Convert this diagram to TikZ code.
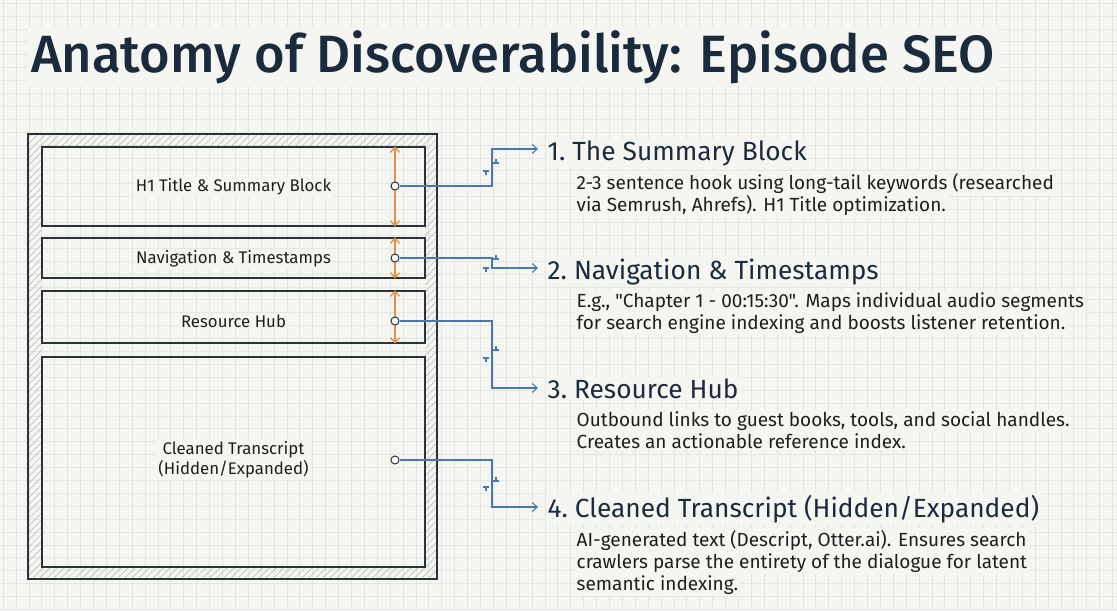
\documentclass[tikz,border=0pt]{standalone}
\usepackage{fontspec}
\setmainfont{Fira Sans}
\newfontfamily\titlefont{Fira Sans Medium}
\newfontfamily\plainfont{Fira Sans}
\usetikzlibrary{arrows.meta,patterns.meta}
\definecolor{bg}{HTML}{F5F5F1}
\definecolor{gridc}{HTML}{E5E6E2}
\definecolor{ink}{HTML}{1B2B3E}
\definecolor{boxc}{HTML}{2A323C}
\definecolor{hatchc}{HTML}{B5B5B2}
\definecolor{orng}{HTML}{E3923F}
\definecolor{blu}{HTML}{4A79A8}
\definecolor{txt}{HTML}{1E1E1E}
\begin{document}
\begin{tikzpicture}[x=1pt,y=-1pt,
  sect/.style={draw=boxc,line width=1.2pt,rectangle,inner sep=0pt},
  lbl/.style={fill=bg,inner sep=2pt,font=\plainfont\fontsize{16.8}{20}\selectfont,text=txt,align=center},
  head/.style={anchor=base west,fill=bg,inner sep=1.5pt,font=\plainfont\fontsize{26.3}{30}\selectfont,text=ink},
  body/.style={anchor=base west,fill=bg,inner sep=1.5pt,font=\plainfont\fontsize{19}{22}\selectfont,text=txt},
  port/.style={circle,draw=boxc,fill=white,line width=1pt,inner sep=0pt,minimum size=8pt},
  conn/.style={draw=blu,line width=1.1pt,-{Straight Barb[length=5pt,width=9pt]}},
  dim/.style={draw=orng,line width=1.3pt,{Straight Barb[length=5pt,width=9pt]}-{Straight Barb[length=5pt,width=9pt]}},
  hopmark/.style={draw=blu,line width=1.1pt}
]
\useasboundingbox (0,0) rectangle (1117,611);
\fill[bg] (0,0) rectangle (1117,611);
\foreach \g in {3,15.9,...,1117} \draw[gridc,line width=0.6pt] (\g,0) -- (\g,611);
\foreach \g in {3,15.9,...,611} \draw[gridc,line width=0.6pt] (0,\g) -- (1117,\g);

% title
\node[anchor=base west,fill=bg,inner sep=3pt,font=\titlefont\fontsize{52.5}{60}\selectfont,text=ink] (title) at (28,72) {Anatomy of Discoverability: Episode SEO};

% frame with hatched band
\fill[pattern={Lines[angle=45,distance=5pt,line width=0.5pt]},pattern color=hatchc,even odd rule]
  (28,134) rectangle (437,579) (42,147) rectangle (425,567);
\node[sect,minimum width=409pt,minimum height=445pt] (frame) at (232.5,356.5) {};

% sections
\node[sect,minimum width=383pt,minimum height=79pt] (s1) at (233.5,186.5) {};
\node[sect,minimum width=383pt,minimum height=40pt] (s2) at (233.5,258) {};
\node[sect,minimum width=383pt,minimum height=52pt] (s3) at (233.5,317) {};
\node[sect,minimum width=383pt,minimum height=210pt] (s4) at (233.5,462) {};

\node[lbl] (l1) at (233.5,187) {H1 Title \& Summary Block};
\node[lbl] (l2) at (233.5,259) {Navigation \& Timestamps};
\node[lbl] (l3) at (233.5,321) {Resource Hub};
\node[lbl] (l4) at (233.5,460) {Cleaned Transcript\\(Hidden/Expanded)};

% ports positions
\coordinate (q1) at (395,186);
\coordinate (q2) at (395,258);
\coordinate (q3) at (395,321);

% orange dimension arrows
\draw[dim] (q1 |- s1.north) -- (q1 |- s1.south);
\draw[dim] (q2 |- s2.north) -- (q2 |- s2.south);
\draw[dim] (q3 |- s3.north) -- (q3 |- s3.south);

\node[port] (p1) at (395,186) {};
\node[port] (p2) at (395,258) {};
\node[port] (p3) at (395,321) {};
\node[port] (p4) at (395,460) {};

% headings
\node[head] (h1) at (546,160) {1.~The Summary Block};
\node[head] (h2) at (546,279) {2.~Navigation \& Timestamps};
\node[head] (h3) at (546,398) {3.~Resource Hub};
\node[head] (h4) at (546,517) {4.~Cleaned Transcript (Hidden/Expanded)};

\node[body] (b1a) at (575,189) {2-3 sentence hook using long-tail keywords (researched};
\node[body] (b1b) at (575,211) {via Semrush, Ahrefs). H1 Title optimization.};
\node[body] (b2a) at (575,307) {E.g., "Chapter 1 - 00:15:30". Maps individual audio segments};
\node[body] (b2b) at (575,329) {for search engine indexing and boosts listener retention.};
\node[body] (b3a) at (575,426) {Outbound links to guest books, tools, and social handles.};
\node[body] (b3b) at (575,448) {Creates an actionable reference index.};
\node[body] (b4a) at (575,546) {AI-generated text (Descript, Otter.ai). Ensures search};
\node[body] (b4b) at (575,568) {crawlers parse the entirety of the dialogue for latent};
\node[body] (b4c) at (575,590) {semantic indexing.};

% connector end points
\coordinate (e1) at (538,149);
\coordinate (e2) at (538,268);
\coordinate (e3) at (538,388);
\coordinate (e4) at (538,507);

\draw[conn] (p1.east) -| (492,149) -- (e1);
\draw[conn] (p2.east) -| (492,268) -- (e2);
\draw[conn] (p3.east) -| (492,388) -- (e3);
\draw[conn] (p4.east) -| (492,507) -- (e4);

% small marks on the risers
\foreach \a/\b in {171/163, 268/259, 358/350, 487/481}{
  \draw[hopmark] (483,\a) -- (489,\a) (486,\a) -- (486,\a+4);
  \draw[hopmark] (493,\b) -- (499,\b) (496,\b) -- (496,\b-4);
}
\end{tikzpicture}
\end{document}
